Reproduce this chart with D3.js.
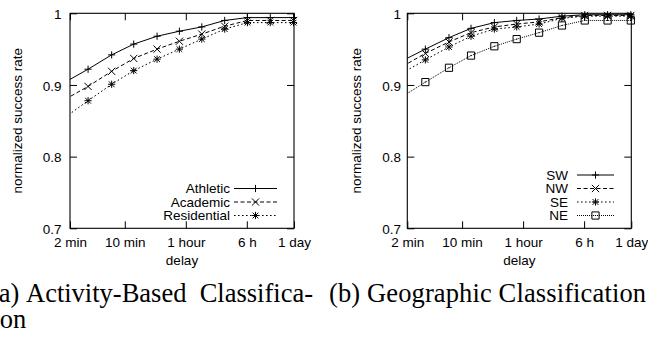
<!DOCTYPE html>
<html><head><meta charset="utf-8">
<script src="https://cdn.jsdelivr.net/npm/d3@7"></script>
<style>
html,body{margin:0;padding:0;background:#fff;}
svg{display:block;}
</style></head>
<body>
<svg id="chart" width="648" height="339"></svg>
<script>
// ---- data ----
const delays = [1.74, 3.4, 6.8, 13, 25.8, 49.7, 96, 188, 367, 717, 1420]; // minutes
const xTicks = [2, 10, 60, 360, 1440];
const xTickLabels = ["2 min", "10 min", "1 hour", "6 h", "1 day"];
const yTicks = [0.7, 0.8, 0.9, 1];
const yTickLabels = ["0.7", "0.8", "0.9", "1"];

const athletic    = [0.904, 0.922, 0.942, 0.957, 0.968, 0.975, 0.981, 0.990, 0.994, 0.994, 0.994];
const academic    = [0.880, 0.898, 0.919, 0.937, 0.950, 0.961, 0.971, 0.982, 0.990, 0.990, 0.990];
const residential = [0.855, 0.878, 0.901, 0.920, 0.936, 0.950, 0.964, 0.978, 0.987, 0.987, 0.987];

const sw = [0.934, 0.950, 0.966, 0.979, 0.987, 0.990, 0.992, 0.996, 0.998, 0.998, 0.998];
const nw = [0.926, 0.944, 0.960, 0.973, 0.981, 0.985, 0.988, 0.994, 0.997, 0.997, 0.997];
const se = [0.917, 0.935, 0.953, 0.968, 0.978, 0.981, 0.985, 0.993, 0.996, 0.996, 0.996];
const ne = [0.884, 0.904, 0.924, 0.941, 0.954, 0.964, 0.973, 0.983, 0.990, 0.990, 0.990];

const seriesA = ["Athletic", "Academic", "Residential"];
const seriesB = ["SW", "NW", "SE", "NE"];

// ---- styles ----
const styles = {
  solid:  {dash: null,  marker: "plus"},
  dashed: {dash: "4,2.5", marker: "cross"},
  dotted: {dash: "1.6,2.4", marker: "star"},
  fine:   {dash: "1,1",   marker: "box"}
};

const svg = d3.select("#chart");
const FONT = "'Liberation Sans', Arial, Helvetica, sans-serif";
const SERIF = "'Liberation Serif', 'Times New Roman', serif";

function markerPath(type, s) {
  const p = d3.path();
  if (type === "plus" || type === "star") {
    p.moveTo(-s, 0); p.lineTo(s, 0); p.moveTo(0, -s); p.lineTo(0, s);
  }
  if (type === "cross" || type === "star") {
    const t = type === "star" ? s * 0.8 : s;
    p.moveTo(-t, -t); p.lineTo(t, t); p.moveTo(-t, t); p.lineTo(t, -t);
  }
  if (type === "box") {
    p.rect(-s, -s, 2 * s, 2 * s);
    p.moveTo(-0.6, 0); p.lineTo(0.6, 0);
  }
  return p.toString();
}

function panel(cfg) {
  const {left, right, top, bottom, id, series, labelRight, ylabX, legendTextX, legendLineX0, legendLineX1, legendYs} = cfg;
  const x = d3.scaleLog().domain([2, 1440]).range([left, right]);
  const y = d3.scaleLinear().domain([0.7, 1]).range([bottom, top]);
  const g = svg.append("g");

  g.append("clipPath").attr("id", id).append("rect")
    .attr("x", left).attr("y", top).attr("width", right - left).attr("height", bottom - top);

  const tick = 7;
  const ax = g.append("g").attr("transform", `translate(${left},0)`)
    .call(d3.axisLeft(y).tickValues(yTicks).tickFormat((d, i) => yTickLabels[i])
      .tickSizeInner(-tick).tickSizeOuter(0).tickPadding(left - labelRight));
  const ax2 = g.append("g").attr("transform", `translate(${right},0)`)
    .call(d3.axisRight(y).tickValues(yTicks).tickFormat("").tickSizeInner(-tick).tickSizeOuter(0));
  const bx = g.append("g").attr("transform", `translate(0,${bottom})`)
    .call(d3.axisBottom(x).tickValues(xTicks).tickFormat((d, i) => xTickLabels[i])
      .tickSizeInner(-tick).tickSizeOuter(0).tickPadding(9.5));
  const tx = g.append("g").attr("transform", `translate(0,${top})`)
    .call(d3.axisTop(x).tickValues(xTicks).tickFormat("").tickSizeInner(-tick).tickSizeOuter(0));

  [ax, ax2, bx, tx].forEach(a => {
    a.select(".domain").remove();
    a.selectAll("line").attr("stroke", "#000").attr("stroke-width", 1);
    a.selectAll("text").attr("font-family", FONT).attr("font-size", 13.5).attr("fill", "#000");
  });
  bx.selectAll("text").attr("dy", "0.71em");
  ax.selectAll("text").attr("dy", "0.38em");

  g.append("rect").attr("x", left).attr("y", top).attr("width", right - left).attr("height", bottom - top)
    .attr("fill", "none").attr("stroke", "#000").attr("stroke-width", 1.1);

  g.append("text").attr("x", (left + right) / 2).attr("y", 265)
    .attr("text-anchor", "middle").attr("font-family", FONT).attr("font-size", 13.5).text("delay");
  g.append("text").attr("transform", `translate(${ylabX},${(top + bottom) / 2}) rotate(-90)`)
    .attr("text-anchor", "middle").attr("dominant-baseline", "central")
    .attr("font-family", FONT).attr("font-size", 13.5).text("normalized success rate");

  const line = d3.line().x((d, i) => x(delays[i])).y(d => y(d));

  series.forEach((s, k) => {
    const st = styles[s.style];
    g.append("path").datum(s.values)
      .attr("clip-path", `url(#${id})`)
      .attr("d", line).attr("fill", "none").attr("stroke", "#000")
      .attr("stroke-width", 1).attr("stroke-dasharray", st.dash);
    g.append("g").selectAll("path")
      .data(s.values.map((v, i) => [delays[i], v]).filter(d => d[0] >= 2))
      .join("path")
      .attr("transform", d => `translate(${x(d[0])},${y(d[1])})`)
      .attr("d", markerPath(st.marker, 3.6)).attr("fill", "none")
      .attr("stroke", "#000").attr("stroke-width", 1);

    const ly = legendYs[k];
    g.append("text").attr("x", legendTextX).attr("y", ly).attr("text-anchor", "end")
      .attr("dominant-baseline", "central").attr("font-family", FONT).attr("font-size", 13.5).text(s.name);
    g.append("line").attr("x1", legendLineX0).attr("x2", legendLineX1).attr("y1", ly).attr("y2", ly)
      .attr("stroke", "#000").attr("stroke-width", 1).attr("stroke-dasharray", st.dash);
    g.append("path").attr("transform", `translate(${(legendLineX0 + legendLineX1) / 2},${ly})`)
      .attr("d", markerPath(st.marker, 3.6)).attr("fill", "none").attr("stroke", "#000").attr("stroke-width", 1);
  });
}

panel({
  id: "clipA", left: 70, right: 294, top: 13.3, bottom: 228.3, labelRight: 61.5, ylabX: 17,
  legendTextX: 230, legendLineX0: 234, legendLineX1: 277, legendYs: [188.5, 202, 215.5],
  series: [
    {name: seriesA[0], values: athletic, style: "solid"},
    {name: seriesA[1], values: academic, style: "dashed"},
    {name: seriesA[2], values: residential, style: "dotted"}
  ]
});
panel({
  id: "clipB", left: 407.3, right: 631.3, top: 13.3, bottom: 228.3, labelRight: 401, ylabX: 356.5,
  legendTextX: 568, legendLineX0: 577, legendLineX1: 614, legendYs: [175, 188.5, 202, 215.5],
  series: [
    {name: seriesB[0], values: sw, style: "solid"},
    {name: seriesB[1], values: nw, style: "dashed"},
    {name: seriesB[2], values: se, style: "dotted"},
    {name: seriesB[3], values: ne, style: "fine"}
  ]
});

// captions
const cap = svg.append("g").attr("font-family", SERIF).attr("font-size", 26.5).attr("fill", "#000");
cap.append("text").attr("x", -10).attr("y", 302).text("(a)");
cap.append("text").attr("x", 26).attr("y", 302).text("Activity-Based");
cap.append("text").attr("x", 313).attr("y", 302).attr("text-anchor", "end").text("Classifica-");
cap.append("text").attr("x", -15).attr("y", 327.5).text("tion");
cap.append("text").attr("x", 329).attr("y", 302).attr("textLength", 317).text("(b) Geographic Classification");
</script>
</body></html>
